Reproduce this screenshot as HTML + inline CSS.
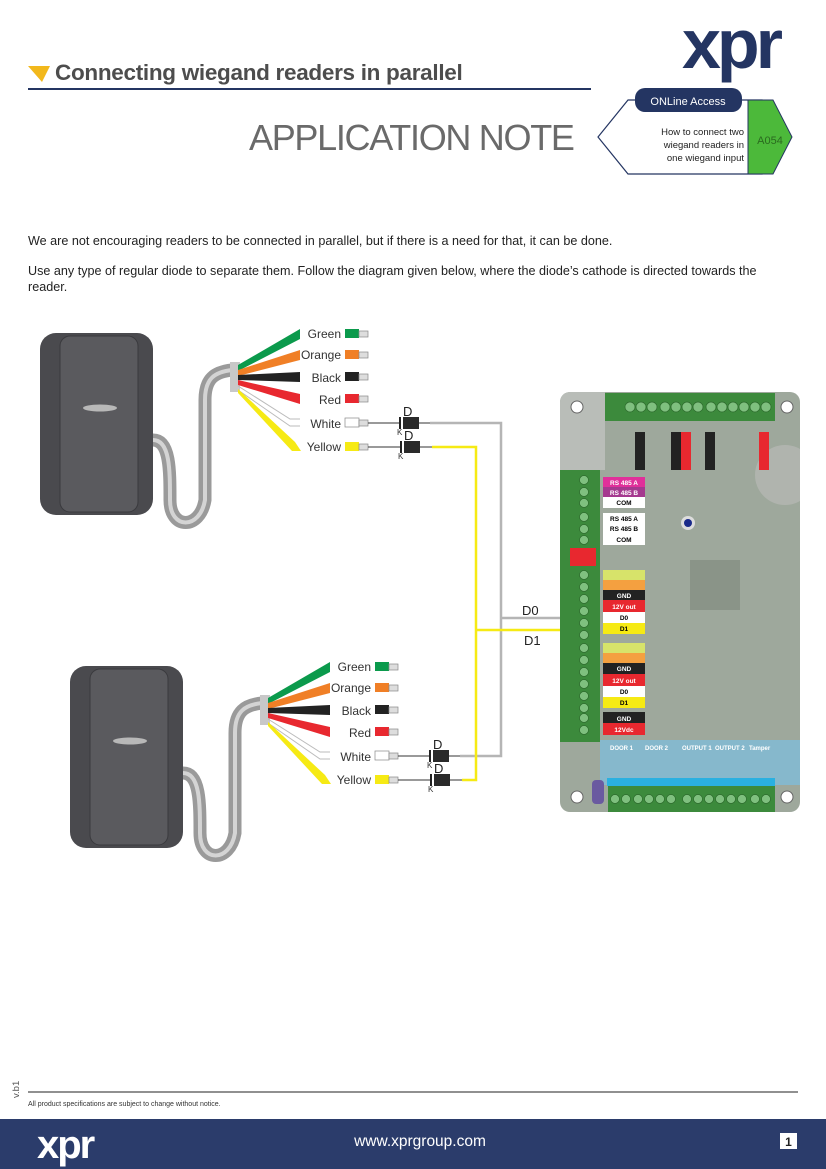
<!DOCTYPE html>
<html><head><meta charset="utf-8"><style>
body{margin:0;width:826px;height:1169px;position:relative;background:#fff;font-family:"Liberation Sans",sans-serif;overflow:hidden}
.a{position:absolute}
</style></head><body>
<div class="a" style="left:682px;top:4px;font-size:70px;font-weight:bold;color:#243562;letter-spacing:-4px">xpr</div>
<div class="a" style="left:55px;top:60px;font-size:22.5px;font-weight:bold;color:#4d4d4d;letter-spacing:-0.3px">Connecting wiegand readers in parallel</div>
<div class="a" style="left:28px;top:88px;width:563px;height:1.5px;background:#243562"></div>
<div class="a" style="left:249px;top:117px;font-size:36px;color:#6a6a6a;letter-spacing:-1.3px">APPLICATION NOTE</div>
<div class="a" style="left:28px;top:234px;font-size:12.6px;color:#222">We are not encouraging readers to be connected in parallel, but if there is a need for that, it can be done.</div>
<div class="a" style="left:28px;top:263px;width:760px;font-size:12.6px;line-height:16px;color:#222">Use any type of regular diode to separate them. Follow the diagram given below, where the diode’s cathode is directed towards the reader.</div>

<svg class="a" style="left:0;top:0" width="826" height="1169" viewBox="0 0 826 1169" font-family="Liberation Sans, sans-serif">
<polygon points="598,137 628,100 762,100 762,174 628,174" fill="#fff" stroke="#243562" stroke-width="1.2"/>
<polygon points="748,100 773,100 792,137 773,174 748,174" fill="#4cb93a" stroke="#243562" stroke-width="1"/>
<rect x="635" y="88" width="107" height="24" rx="10" fill="#243562"/>
<text x="688" y="105" font-size="11" fill="#fff" text-anchor="middle">ONLine Access</text>
<text x="744" y="135" font-size="9.5" fill="#222" text-anchor="end">How to connect two</text>
<text x="744" y="148" font-size="9.5" fill="#222" text-anchor="end">wiegand readers in</text>
<text x="744" y="161" font-size="9.5" fill="#222" text-anchor="end">one wiegand input</text>
<text x="770" y="144" font-size="11" fill="#2a6a1f" text-anchor="middle">A054</text>
<polygon points="28,66 50,66 42,82" fill="#f2b81c"/>

<defs>
<g id="rd">
 <path d="M153,440 C170,440 170,470 170,500 C170,530 200,530 205,500 L205,400 C205,378 215,372 232,370" fill="none" stroke="#9a9a9a" stroke-width="13"/>
 <path d="M153,440 C170,440 170,470 170,500 C170,530 200,530 205,500 L205,400 C205,378 215,372 232,370" fill="none" stroke="#d4d4d4" stroke-width="4"/>
 <rect x="40" y="333" width="113" height="182" rx="16" fill="#4a4a4e"/>
 <rect x="60" y="336" width="78" height="176" rx="10" fill="#5a5a5e" stroke="#3a3a3e"/>
 <ellipse cx="100" cy="408" rx="17" ry="3.5" fill="#b8b8b8"/>
 <rect x="230" y="362" width="10" height="30" fill="#c8c8c8"/>
 <polygon points="238,365 300,329 300,339 238,371" fill="#0b9a4c"/>
 <polygon points="238,370 300,350 300,360 238,376" fill="#f07f26"/>
 <polygon points="238,375 300,372 300,382 238,380" fill="#222"/>
 <polygon points="238,380 300,394 300,404 238,385" fill="#e8282f"/>
 <polyline points="238,386 290,419 300,419" fill="none" stroke="#bbb" stroke-width="1"/>
 <polyline points="238,390 290,426 300,426" fill="none" stroke="#bbb" stroke-width="1"/>
 <polygon points="238,389 295,442 301,451 292,451 238,393" fill="#f6ea14"/>
 <g font-size="12" fill="#333" text-anchor="end">
  <text x="341" y="338">Green</text><text x="341" y="359">Orange</text><text x="341" y="382">Black</text>
  <text x="341" y="404">Red</text><text x="341" y="428">White</text><text x="341" y="451">Yellow</text>
 </g>
 <rect x="345" y="329" width="14" height="9" fill="#0b9a4c"/>
 <rect x="345" y="350" width="14" height="9" fill="#f07f26"/>
 <rect x="345" y="372" width="14" height="9" fill="#222"/>
 <rect x="345" y="394" width="14" height="9" fill="#e8282f"/>
 <rect x="345" y="418" width="14" height="9" fill="#fff" stroke="#888" stroke-width="0.7"/>
 <rect x="345" y="442" width="14" height="9" fill="#f6ea14"/>
 <g fill="#ddd" stroke="#888" stroke-width="0.7">
  <rect x="359" y="331" width="9" height="6"/><rect x="359" y="352" width="9" height="6"/><rect x="359" y="374" width="9" height="6"/>
  <rect x="359" y="396" width="9" height="6"/><rect x="359" y="420" width="9" height="6"/><rect x="359" y="444" width="9" height="6"/>
 </g>
 <line x1="368" y1="423" x2="400" y2="423" stroke="#333"/>
 <line x1="368" y1="447" x2="400" y2="447" stroke="#333"/>
 <rect x="399" y="417" width="2" height="12" fill="#222"/><rect x="403" y="417" width="16" height="12" fill="#2a2a2a"/>
 <rect x="400" y="441" width="2" height="12" fill="#222"/><rect x="404" y="441" width="16" height="12" fill="#2a2a2a"/>
 <line x1="419" y1="423" x2="430" y2="423" stroke="#333"/>
 <line x1="420" y1="447" x2="432" y2="447" stroke="#333"/>
 <text x="403" y="416" font-size="13" fill="#222">D</text><text x="404" y="440" font-size="13" fill="#222">D</text>
 <text x="397" y="435" font-size="8" fill="#333">K</text><text x="398" y="459" font-size="8" fill="#333">K</text>
</g>
<clipPath id="bc"><rect x="560" y="392" width="240" height="420" rx="10"/></clipPath>
</defs>
<use href="#rd"/>
<use href="#rd" transform="translate(30,333)"/>
<polyline points="430,423 501,423 501,756 460,756" fill="none" stroke="#b5b5b5" stroke-width="2.5"/>
<polyline points="432,447 476,447 476,780 462,780" fill="none" stroke="#f6ea14" stroke-width="2.5"/>
<line x1="501" y1="618" x2="566" y2="618" stroke="#b5b5b5" stroke-width="2.5"/>
<line x1="476" y1="630" x2="573" y2="630" stroke="#f6ea14" stroke-width="2.5"/>
<text x="522" y="615" font-size="13" fill="#222">D0</text>
<text x="524" y="645" font-size="13" fill="#222">D1</text>

<g clip-path="url(#bc)">
<rect x="560" y="392" width="240" height="420" fill="#9ea89c"/>
<rect x="560" y="392" width="45" height="78" fill="#b9bdb8"/>
<circle cx="785" cy="475" r="30" fill="#b0b4ae"/>
<rect x="690" y="560" width="50" height="50" fill="#8a9488"/>
<rect x="605" y="393" width="170" height="28" fill="#3c8a3c"/>
<g fill="#7fc07f" stroke="#2d6a2d" stroke-width="0.7">
<circle cx="630" cy="407" r="5"/><circle cx="641" cy="407" r="5"/><circle cx="652" cy="407" r="5"/><circle cx="665" cy="407" r="5"/><circle cx="676" cy="407" r="5"/><circle cx="687" cy="407" r="5"/><circle cx="698" cy="407" r="5"/><circle cx="711" cy="407" r="5"/><circle cx="722" cy="407" r="5"/><circle cx="733" cy="407" r="5"/><circle cx="744" cy="407" r="5"/><circle cx="755" cy="407" r="5"/><circle cx="766" cy="407" r="5"/>
</g>
<rect x="635" y="432" width="10" height="38" fill="#222"/><rect x="671" y="432" width="10" height="38" fill="#222"/>
<rect x="681" y="432" width="10" height="38" fill="#e8282f"/><rect x="705" y="432" width="10" height="38" fill="#222"/>
<rect x="759" y="432" width="10" height="38" fill="#e8282f"/>
<rect x="560" y="470" width="40" height="272" fill="#3c8a3c"/>
<g fill="#7fc07f" stroke="#2d6a2d" stroke-width="0.7">
<circle cx="584" cy="480" r="4.5"/><circle cx="584" cy="492" r="4.5"/><circle cx="584" cy="503" r="4.5"/><circle cx="584" cy="517" r="4.5"/><circle cx="584" cy="529" r="4.5"/><circle cx="584" cy="540" r="4.5"/>
<circle cx="584" cy="575" r="4.5"/><circle cx="584" cy="587" r="4.5"/><circle cx="584" cy="599" r="4.5"/><circle cx="584" cy="611" r="4.5"/><circle cx="584" cy="623" r="4.5"/><circle cx="584" cy="635" r="4.5"/>
<circle cx="584" cy="648" r="4.5"/><circle cx="584" cy="660" r="4.5"/><circle cx="584" cy="672" r="4.5"/><circle cx="584" cy="684" r="4.5"/><circle cx="584" cy="696" r="4.5"/><circle cx="584" cy="708" r="4.5"/>
<circle cx="584" cy="718" r="4.5"/><circle cx="584" cy="730" r="4.5"/>
</g>
<rect x="570" y="548" width="26" height="18" fill="#e8282f"/>
<rect x="603" y="477" width="42" height="10" fill="#e0309a"/><rect x="603" y="487" width="42" height="10" fill="#a5398f"/><rect x="603" y="497" width="42" height="11" fill="#fff"/>
<rect x="603" y="513" width="42" height="32" fill="#fff"/>
<rect x="603" y="570" width="42" height="10" fill="#d7e36a"/><rect x="603" y="580" width="42" height="10" fill="#f4a040"/><rect x="603" y="590" width="42" height="10" fill="#222"/><rect x="603" y="600" width="42" height="12" fill="#e8282f"/><rect x="603" y="612" width="42" height="11" fill="#fff"/><rect x="603" y="623" width="42" height="11" fill="#f6ea14"/>
<rect x="603" y="643" width="42" height="10" fill="#d7e36a"/><rect x="603" y="653" width="42" height="10" fill="#f4a040"/><rect x="603" y="663" width="42" height="11" fill="#222"/><rect x="603" y="674" width="42" height="12" fill="#e8282f"/><rect x="603" y="686" width="42" height="11" fill="#fff"/><rect x="603" y="697" width="42" height="11" fill="#f6ea14"/>
<rect x="603" y="712" width="42" height="11" fill="#222"/><rect x="603" y="723" width="42" height="12" fill="#e8282f"/>
<g font-size="6.5" font-weight="bold" text-anchor="middle">
<text x="624" y="485" fill="#fff">RS 485 A</text><text x="624" y="495" fill="#fff">RS 485 B</text><text x="624" y="505" fill="#000">COM</text>
<text x="624" y="521">RS 485 A</text><text x="624" y="531">RS 485 B</text><text x="624" y="542">COM</text>
<text x="624" y="598" fill="#fff">GND</text><text x="624" y="609" fill="#fff">12V out</text><text x="624" y="620">D0</text><text x="624" y="631">D1</text>
<text x="624" y="671" fill="#fff">GND</text><text x="624" y="683" fill="#fff">12V out</text><text x="624" y="694">D0</text><text x="624" y="705">D1</text>
<text x="624" y="721" fill="#fff">GND</text><text x="624" y="732" fill="#fff">12Vdc</text>
</g>
<circle cx="688" cy="523" r="7" fill="#ddd"/><circle cx="688" cy="523" r="4" fill="#1a2a8a"/>
<rect x="600" y="740" width="200" height="45" fill="#86b8cc"/>
<rect x="607" y="778" width="168" height="8" fill="#2ab0e0"/>
<rect x="608" y="786" width="167" height="26" fill="#3c8a3c"/>
<g fill="#7fc07f" stroke="#2d6a2d" stroke-width="0.7">
<circle cx="615" cy="799" r="4.5"/><circle cx="626" cy="799" r="4.5"/><circle cx="638" cy="799" r="4.5"/><circle cx="649" cy="799" r="4.5"/><circle cx="660" cy="799" r="4.5"/><circle cx="671" cy="799" r="4.5"/>
<circle cx="687" cy="799" r="4.5"/><circle cx="698" cy="799" r="4.5"/><circle cx="709" cy="799" r="4.5"/><circle cx="720" cy="799" r="4.5"/><circle cx="731" cy="799" r="4.5"/><circle cx="742" cy="799" r="4.5"/>
<circle cx="755" cy="799" r="4.5"/><circle cx="766" cy="799" r="4.5"/>
</g>
<rect x="592" y="780" width="12" height="24" rx="4" fill="#6a5aa0"/>
<g font-size="6" fill="#fff" font-weight="bold"><text x="610" y="750">DOOR 1</text><text x="645" y="750">DOOR 2</text><text x="682" y="750">OUTPUT 1</text><text x="715" y="750">OUTPUT 2</text><text x="749" y="750">Tamper</text></g>
<g fill="#fff" stroke="#666"><circle cx="577" cy="407" r="6"/><circle cx="787" cy="407" r="6"/><circle cx="577" cy="797" r="6"/><circle cx="787" cy="797" r="6"/></g>
</g>

<line x1="28" y1="1092" x2="798" y2="1092" stroke="#222" stroke-width="1"/>
<text x="28" y="1106" font-size="7" fill="#333">All product specifications are subject to change without notice.</text>
<text transform="translate(19,1098) rotate(-90)" font-size="9.5" fill="#555">v.b1</text>
<rect x="0" y="1119" width="826" height="50" fill="#2b3c6b"/>
<text x="37" y="1158" font-size="40" font-weight="bold" fill="#fff" letter-spacing="-2">xpr</text>
<text x="420" y="1146" font-size="15.5" fill="#fff" text-anchor="middle">www.xprgroup.com</text>
<rect x="780" y="1133" width="17" height="16" fill="#fff"/>
<text x="788.5" y="1146" font-size="12" font-weight="bold" fill="#222" text-anchor="middle">1</text>
</svg>
</body></html>
